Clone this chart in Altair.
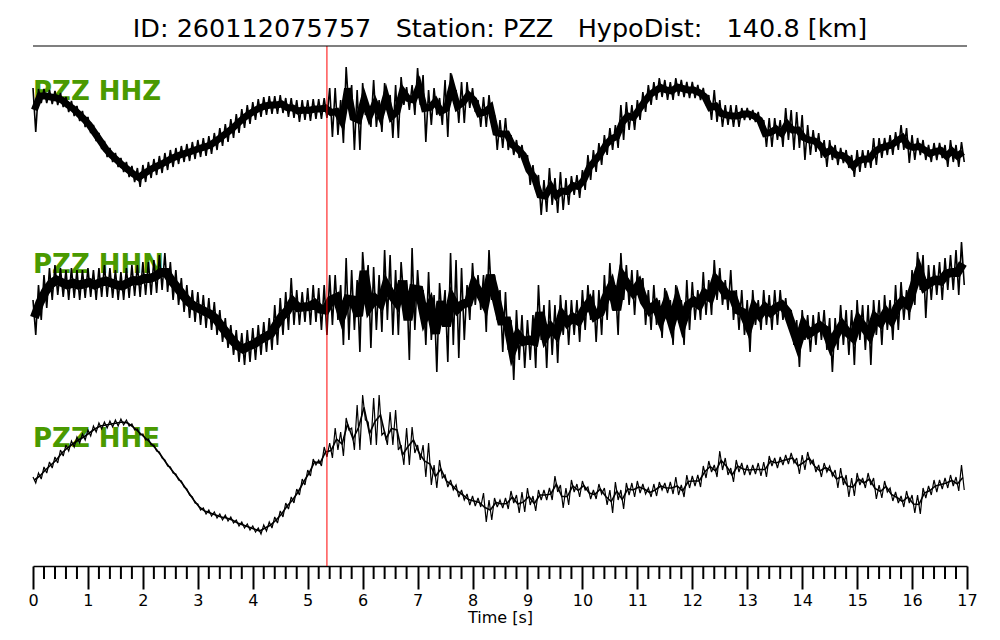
import altair as alt
import pandas as pd

# ---- data (trace amplitude, arbitrary units, positive up)
# each trace is given as max/min envelope per 0.1 s window, windows start at t = 0.0 ... 16.9
t0 = 0.0
dt = 0.1
n_win = 170

hhz_hi = [42,41,41,40,39,37,33,29,24,19,
          13,5,-3,-11,-18,-23,-28,-32,-36,-38,
          -35,-32,-29,-26,-23,-20,-18,-16,-14,-12,
          -10,-8,-6,-3,2,6,11,16,21,25,
          28,31,33,34,34,35,32,32,30,30,
          30,31,31,32,42,42,30,63,45,40,
          47,25,50,30,47,35,45,53,43,45,
          62,55,40,42,32,50,57,40,48,48,
          42,30,33,35,15,10,12,-5,-10,-15,
          -25,-35,-45,-50,-38,-48,-42,-48,-46,-45,
          -40,-25,-20,-13,-5,2,5,25,28,25,
          30,38,45,48,52,50,48,52,50,48,
          48,45,42,35,40,30,25,25,25,22,
          22,20,18,10,12,12,10,22,20,18,
          15,5,0,-3,-10,-10,-15,-18,-20,-25,
          -20,-20,-20,-8,-8,-8,-5,-2,5,2,
          -5,-8,-10,-15,-13,-13,-15,-10,-15,-12]
hhz_lo = [-2,27,27,26,25,23,18,14,9,3,
          -3,-11,-19,-27,-32,-37,-42,-47,-52,-57,
          -52,-48,-45,-43,-40,-37,-34,-32,-31,-29,
          -27,-26,-24,-20,-16,-12,-8,-3,2,6,
          10,13,15,16,16,17,13,12,8,10,
          9,11,11,12,-7,-5,-13,20,-20,-20,
          15,3,3,-2,20,-8,-8,25,20,15,
          25,-12,5,15,5,-7,30,7,7,22,
          18,3,3,10,-20,-18,-20,-25,-28,-35,
          -55,-60,-85,-82,-75,-83,-80,-75,-65,-68,
          -60,-50,-42,-35,-25,-20,-18,-10,0,0,
          10,18,25,30,33,30,30,34,33,32,
          32,30,25,10,8,3,5,3,3,10,
          10,8,2,-17,-17,-10,-17,-10,-20,-18,
          -30,-25,-22,-28,-37,-30,-35,-33,-38,-47,
          -42,-38,-38,-35,-28,-25,-25,-20,-20,-33,
          -30,-25,-30,-32,-30,-28,-37,-32,-37,-32]

hhn_hi = [5,20,30,37,40,37,35,37,35,35,
          37,35,37,40,37,35,33,37,40,40,
          43,43,45,50,52,43,35,27,20,15,
          13,10,7,3,-5,-13,-20,-25,-28,-25,
          -23,-20,-17,-13,0,7,13,27,15,13,
          17,20,17,20,30,30,20,47,35,25,
          53,40,38,30,55,50,35,43,25,57,
          35,15,33,10,22,15,52,45,37,20,
          42,30,30,55,30,15,13,-15,-5,-10,
          -15,-10,20,0,5,0,10,5,5,5,
          15,20,15,15,30,42,20,52,40,35,
          35,27,15,20,5,17,5,20,5,25,
          23,15,33,25,45,37,25,35,15,15,
          5,15,5,15,10,15,15,7,-5,-15,
          -5,-10,-10,-7,-5,-13,-13,0,-5,-5,
          5,0,0,5,5,10,5,20,23,15,
          35,53,50,40,40,43,47,50,55,63]
hhn_lo = [-30,-15,-3,5,10,8,5,7,5,7,
          8,5,8,8,7,5,5,7,9,8,
          10,10,12,15,13,5,0,-7,-13,-17,
          -20,-23,-25,-30,-37,-43,-50,-57,-60,-57,
          -55,-50,-47,-45,-40,-30,-25,-20,-20,-17,
          -20,-17,-25,-30,-20,-15,-40,-35,-25,-47,
          15,-43,-25,-27,-15,-30,-30,5,-55,-25,
          -5,-40,-35,-67,-15,-57,-40,-53,-35,-15,
          0,-5,-27,5,-15,-47,-45,-75,-55,-63,
          -55,-63,-35,-63,-50,-58,-30,-40,-30,-37,
          -25,-15,-37,-30,-15,-5,-30,5,0,-10,
          5,-20,-25,-20,-33,-15,-40,-15,-40,-25,
          -15,-15,-10,-10,5,0,-5,-15,-25,-30,
          -47,-20,-25,-20,-25,-20,-15,-20,-40,-62,
          -35,-47,-40,-35,-45,-67,-45,-40,-50,-60,
          -35,-45,-60,-30,-40,-25,-35,-25,-15,-15,
          0,15,-13,5,10,5,15,15,10,20]

hhe_hi = [-7,-3,3,8,13,20,25,29,33,36,
          40,44,47,48,49,50,51,50,46,41,
          36,31,25,18,10,3,-4,-11,-19,-27,
          -34,-38,-40,-42,-44,-45,-47,-50,-52,-54,
          -56,-58,-55,-52,-47,-41,-33,-27,-19,-9,
          0,11,10,23,27,42,38,52,42,65,
          75,48,72,75,38,58,60,25,42,43,
          25,25,27,5,10,-5,-10,-15,-20,-24,
          -26,-28,-23,-30,-28,-30,-28,-21,-25,-22,
          -18,-26,-20,-20,-18,-6,-15,-18,-10,-14,
          -11,-17,-20,-14,-18,-20,-12,-20,-13,-13,
          -11,-14,-18,-14,-12,-13,-12,-7,-15,-5,
          -6,-5,4,9,5,19,12,2,10,7,
          5,5,7,8,14,12,13,15,17,12,
          15,18,10,5,7,4,0,2,-5,-8,
          -3,-8,-3,-8,-15,-11,-18,-22,-26,-21,
          -25,-25,-18,-16,-10,-10,-8,-5,-7,5]
hhe_lo = [-13,-9,-3,2,7,14,19,23,27,30,
          34,38,41,42,43,44,45,44,40,35,
          30,25,19,12,4,-3,-10,-17,-25,-33,
          -40,-44,-46,-48,-50,-51,-53,-56,-58,-60,
          -62,-64,-61,-58,-53,-47,-39,-33,-25,-15,
          -6,5,4,13,12,20,14,40,20,20,
          50,25,25,35,25,25,20,5,5,17,
          10,-7,-15,-18,-8,-17,-20,-27,-30,-35,
          -36,-37,-52,-50,-37,-38,-39,-33,-43,-42,
          -35,-41,-30,-30,-30,-22,-38,-35,-22,-27,
          -20,-29,-29,-24,-35,-43,-30,-39,-25,-27,
          -23,-24,-27,-26,-20,-23,-24,-25,-27,-18,
          -16,-17,-8,-2,-7,0,-5,-12,-2,-5,
          -5,-4,-6,-7,4,2,5,6,7,-4,
          0,6,-2,-7,-2,-6,-18,-15,-27,-26,
          -15,-18,-15,-29,-28,-22,-31,-33,-37,-33,
          -43,-44,-28,-25,-22,-19,-18,-16,-21,-20]

channels = ["HHZ", "HHN", "HHE"]
station = "PZZ"
event_id = "260112075757"
hypodist = 140.8
p_pick = 5.35
x_ticks = list(range(18))

# vertical trace offsets (amplitude units), label placement and line weights
offsets = {"HHZ": 84, "HHN": 259, "HHE": 424}
label_y = {"HHZ": 54, "HHN": 227, "HHE": 401}
line_w = {"HHZ": 1.6, "HHN": 1.6, "HHE": 1.2}
core_w = {"HHZ": 7, "HHN": 9, "HHE": 1.6}

rows, cores = [], []
for ch, hi, lo in [("HHZ", hhz_hi, hhz_lo), ("HHN", hhn_hi, hhn_lo), ("HHE", hhe_hi, hhe_lo)]:
    off = offsets[ch]
    for i in range(min(n_win, len(hi), len(lo))):
        t = round(t0 + i * dt, 3)
        rows.append({"ch": ch, "t": t, "v": hi[i] - off, "k": 2 * i})
        rows.append({"ch": ch, "t": round(t + dt / 2, 3), "v": lo[i] - off, "k": 2 * i + 1})
        cores.append({"ch": ch, "t": round(t + dt / 4, 3), "v": (hi[i] + lo[i]) / 2 - off, "k": i})
df = pd.DataFrame(rows)
dfc = pd.DataFrame(cores)

minor = [k / 5 for k in range(0, 86) if k % 5 != 0]

FONT = "DejaVu Sans"
W, H = 934, 520

xscale = alt.Scale(domain=[0, 17], nice=False, zero=False)
yscale = alt.Scale(domain=[-520, 0], nice=False, zero=False)

xaxis = alt.Axis(values=x_ticks, format="d", tickSize=23, tickWidth=2,
                 tickColor="black", domainColor="black", domainWidth=1.5,
                 labelFontSize=16, labelFont=FONT, labelColor="black",
                 labelPadding=3, labelFlush=False, grid=False,
                 title="Time [s]", titleFont=FONT, titleFontSize=16,
                 titleFontWeight="normal", titleColor="black", titlePadding=1)
X = alt.X("t:Q", scale=xscale, axis=xaxis)

labels = []
for ch in channels:
    labels.append(
        alt.Chart(pd.DataFrame({"txt": [f"{station} {ch}"]}))
        .mark_text(align="left", baseline="alphabetic", font=FONT, fontSize=26,
                   fontWeight="bold", color="#4a9a00")
        .encode(text="txt:N", x=alt.value(0), y=alt.value(label_y[ch]))
    )

traces = []
for ch in channels:
    traces.append(
        alt.Chart(dfc[dfc.ch == ch])
        .mark_line(color="black", strokeWidth=core_w[ch])
        .encode(x=X, y=alt.Y("v:Q", scale=yscale, axis=None), order="k:Q")
    )
    traces.append(
        alt.Chart(df[df.ch == ch])
        .mark_line(color="black", strokeWidth=line_w[ch], strokeJoin="miter", strokeMiterLimit=3)
        .encode(x=X, y=alt.Y("v:Q", scale=yscale, axis=None), order="k:Q")
    )

minor_ticks = (
    alt.Chart(pd.DataFrame({"t": minor}))
    .mark_rule(color="black", strokeWidth=2)
    .encode(x=X, y=alt.value(H), y2=alt.value(H + 13))
)

pick = (
    alt.Chart(pd.DataFrame({"t": [p_pick]}))
    .mark_rule(color="#ff0000", strokeWidth=1)
    .encode(x=X, y=alt.value(0), y2=alt.value(H))
)

top_line = (
    alt.Chart(pd.DataFrame({"a": [0]}))
    .mark_rule(color="black", strokeWidth=1.2)
    .encode(x=alt.value(0), x2=alt.value(W), y=alt.value(0))
)

title_text = (f"ID: {event_id}\u00a0\u00a0\u00a0Station: {station}\u00a0\u00a0\u00a0"
              f"HypoDist:\u00a0\u00a0\u00a0{hypodist} [km]")
title = (
    alt.Chart(pd.DataFrame({"txt": [title_text]}))
    .mark_text(align="center", baseline="alphabetic", font=FONT, fontSize=25.5,
               fontWeight="normal", color="black")
    .encode(text="txt:N", x=alt.value(W / 2), y=alt.value(-9.5))
)

chart = (
    alt.layer(*labels, *traces, minor_ticks, pick, top_line, title)
    .properties(
        width=W, height=H,
        autosize=alt.AutoSizeParams(type="none"),
        padding={"left": 25, "top": 38, "right": 20, "bottom": 60},
    )
    .configure_view(stroke=None)
)

chart.save("out.html", embed_options={"renderer": "svg", "actions": False})
